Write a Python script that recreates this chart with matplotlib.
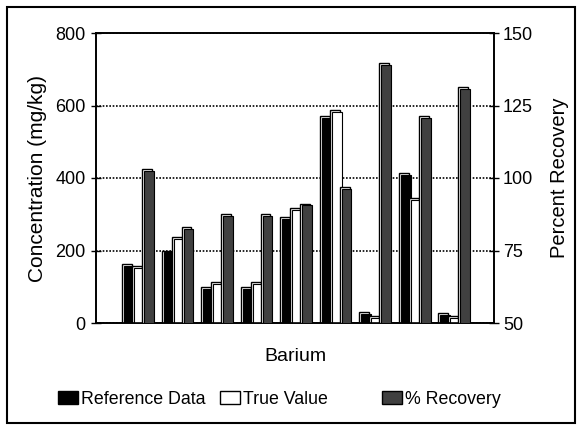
import numpy as np
import matplotlib
matplotlib.use("Agg")
import matplotlib.pyplot as plt
import matplotlib.patheffects as pe
from matplotlib.patches import Patch, Rectangle

plt.rcParams['font.family'] = ['Liberation Sans', 'DejaVu Sans']

# 9 samples, Barium
reference_data = [162, 200, 98, 98, 292, 571, 30, 413, 27]
true_value = [156, 238, 113, 113, 317, 587, 20, 346, 18]
pct_recovery = [103, 83, 87.7, 87.7, 91.2, 97, 139.5, 121.3, 131.4]

series_names = ['Reference Data', 'True Value', '% Recovery']
colors = ['black', 'white', '#404040']

left_ticks = [0, 200, 400, 600, 800]
right_ticks = [50, 75, 100, 125, 150]


def bar_fx(c):
    # outlined box at the bar, filled face shifted down-right (old Excel 3D look)
    return [pe.PathPatchEffect(offset=(0, 0), facecolor='white', edgecolor='black', linewidth=1.0),
            pe.PathPatchEffect(offset=(1.4, -1.4), facecolor=c, edgecolor='black', linewidth=0.8)]


fig = plt.figure(figsize=(5.82, 4.30), dpi=100)
ax = fig.add_axes([96 / 582, 107 / 430, 398 / 582, 290 / 430])
ax2 = ax.twinx()

x = np.arange(len(reference_data))
w = 0.25

b1 = ax.bar(x - w, reference_data, w, color=colors[0], zorder=3)
b2 = ax.bar(x, true_value, w, color=colors[1], zorder=3)
b3 = ax2.bar(x + w, np.array(pct_recovery) - 50, w, bottom=50, color=colors[2], zorder=3)
for bars, c in zip((b1, b2, b3), colors):
    for p in bars:
        p.set_path_effects(bar_fx(c))

ax.set_xlim(-1.04, 9.03)
ax.set_ylim(0, 800)
ax.set_yticks(left_ticks)
ax2.set_ylim(50, 150)
ax2.set_yticks(right_ticks)
ax.set_xticks([])

ax.yaxis.grid(True, linestyle=(0, (1, 1)), color='black', linewidth=1.2)
ax.set_axisbelow(True)

ax.tick_params(axis='y', direction='inout', length=7, width=1, labelsize=13, pad=4)
ax2.tick_params(axis='y', direction='inout', length=7, width=1, labelsize=13, pad=3)
for a in (ax, ax2):
    for s in a.spines.values():
        s.set_linewidth(1.2)

ax.set_ylabel('Concentration (mg/kg)', fontsize=15, labelpad=6)
ax2.set_ylabel('Percent Recovery', fontsize=14.5, labelpad=12)
ax.set_xlabel('Barium', fontsize=14, labelpad=18)

# legend, one entry at a time like the original layout
legend_x = [58, 220, 382]
for name, c, lx in zip(series_names, colors, legend_x):
    h = Patch(facecolor=c, edgecolor='black', linewidth=1.0)
    fig.legend([h], [name], loc='center left', bbox_to_anchor=(lx / 582, 1 - 399 / 430),
               frameon=False, fontsize=12.8, handlelength=1.15, handleheight=0.75,
               handletextpad=0.15, borderpad=0, borderaxespad=0)

fig.patches.append(Rectangle((7 / 582, 7 / 430), 568 / 582, 416 / 430, transform=fig.transFigure,
                             fill=False, edgecolor='black', linewidth=1.5))

fig.savefig('out.png', dpi=100)
